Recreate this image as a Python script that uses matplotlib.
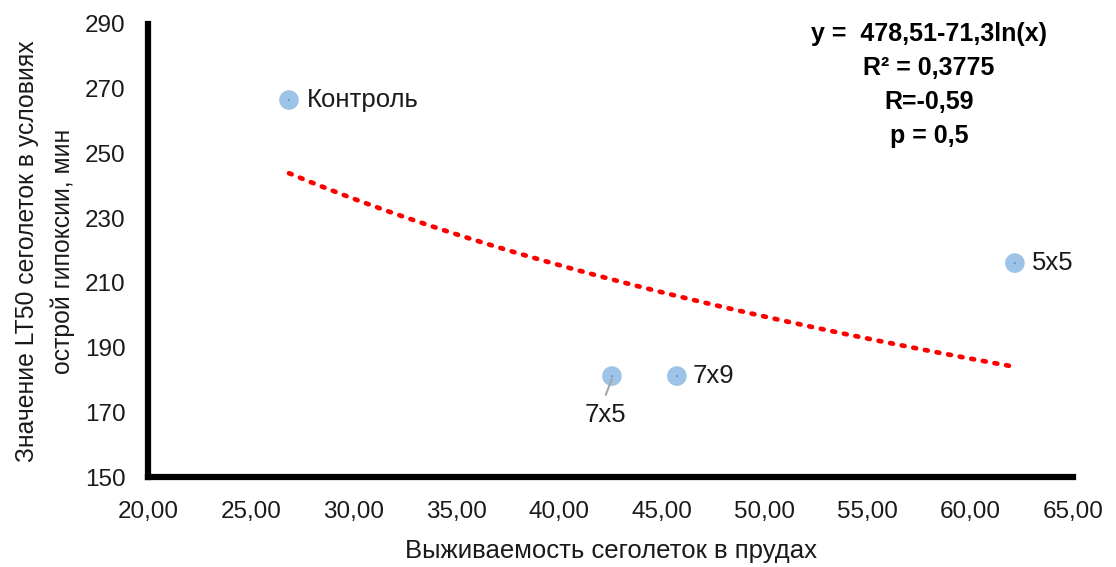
import numpy as np
import matplotlib
matplotlib.use("Agg")
import matplotlib.pyplot as plt
from matplotlib.ticker import FuncFormatter

plt.rcParams['font.family'] = ['Liberation Sans', 'DejaVu Sans']

# Survival of fingerlings in ponds vs LT50 under acute hypoxia
labels = ["Контроль", "7x5", "7x9", "5x5"]
survival = [26.86, 42.57, 45.73, 62.17]
lt50 = [266.5, 181.2, 181.2, 216.1]

# Logarithmic trend y = a + b*ln(x)
coef_a = 478.51
coef_b = -71.3

fig = plt.figure(figsize=(11.16, 5.67), dpi=100)
ax = fig.add_axes([0.1326, 0.1587, 0.8289, 0.7990])

ax.set_xlim(20, 65)
ax.set_ylim(150, 290)
ax.set_xticks(np.arange(20, 66, 5))
ax.set_yticks(np.arange(150, 291, 20))
ax.xaxis.set_major_formatter(FuncFormatter(lambda v, p: f"{v:.2f}".replace(".", ",")))
ax.tick_params(axis='both', length=0, labelsize=17.5, colors='#1a1a1a')
ax.tick_params(axis='x', pad=17)
ax.tick_params(axis='y', pad=16)

for s in ['top', 'right']:
    ax.spines[s].set_visible(False)
for s in ['left', 'bottom']:
    ax.spines[s].set_linewidth(4.5)
    ax.spines[s].set_color('black')
    ax.spines[s].set_capstyle('projecting')

# trend line
xt = np.linspace(min(survival), max(survival), 200)
yt = coef_a + coef_b * np.log(xt)
ax.plot(xt, yt, color='#ff0000', linewidth=3.4, linestyle=(0, (0.6, 1.9)),
        dash_capstyle='round', zorder=2)

# points
ax.scatter(survival, lt50, s=200, color='#9dc3e6', edgecolors='none', zorder=3)
ax.scatter(survival, lt50, s=2, color='#5b8fc7', edgecolors='none', zorder=4)

# point labels
lab_fs = 18.5
ax.annotate(labels[0], (survival[0], lt50[0]), xytext=(13, 0), textcoords='offset points',
            fontsize=lab_fs, ha='left', va='center', color='#1a1a1a')
ax.annotate(labels[2], (survival[2], lt50[2]), xytext=(11, 0), textcoords='offset points',
            fontsize=lab_fs, ha='left', va='center', color='#1a1a1a')
ax.annotate(labels[3], (survival[3], lt50[3]), xytext=(12, 0), textcoords='offset points',
            fontsize=lab_fs, ha='left', va='center', color='#1a1a1a')
ax.annotate(labels[1], (survival[1], lt50[1]), xytext=(-5, -28), textcoords='offset points',
            fontsize=lab_fs, ha='center', va='center', color='#1a1a1a')
ax.annotate("", xy=(survival[1], lt50[1] - 0.8), xytext=(survival[1] - 0.3, lt50[1] - 5.8),
            arrowprops=dict(arrowstyle='-', color='#a6a6a6', lw=1.5, shrinkA=0, shrinkB=0))

# equation block
eq_lines = ["y =  478,51-71,3ln(x)", "R² = 0,3775", "R=-0,59", "p = 0,5"]
for i, line in enumerate(eq_lines):
    fig.text(929 / 1116, 1 - (34 + 34 * i) / 567, line, fontsize=18, fontweight='bold',
             ha='center', va='center', color='black')

ax.set_xlabel("Выживаемость сеголеток в прудах", fontsize=18.5, color='#1a1a1a', labelpad=12)
fig.text(45 / 1116, 1 - 251 / 567, "Значение LT50 сеголеток в условиях\nострой гипоксии, мин",
         fontsize=17.8, rotation=90, ha='center', va='center', color='#1a1a1a', linespacing=1.6)

fig.savefig("out.png", dpi=100, facecolor='white')
